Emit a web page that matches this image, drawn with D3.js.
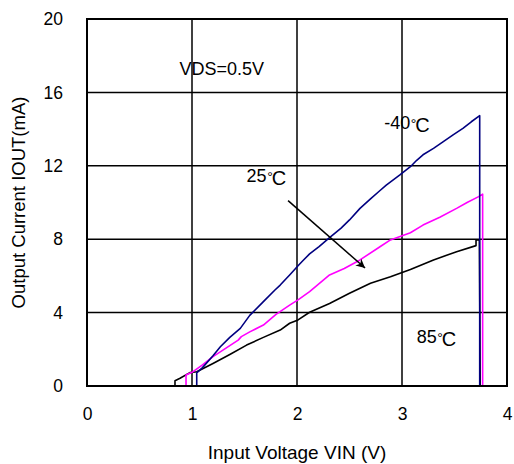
<!DOCTYPE html>
<html>
<head>
<meta charset="utf-8">
<script src="https://cdn.jsdelivr.net/npm/d3@7"></script>
<style>
  html, body { margin: 0; padding: 0; background: #fff; }
  svg { display: block; }
  text { font-family: "Liberation Sans", Arial, sans-serif; fill: #000; }
</style>
</head>
<body>
<svg id="chart" width="514" height="464"></svg>
<script>
// ---- data ----
const xTicks = [0, 1, 2, 3, 4];
const yTicks = [0, 4, 8, 12, 16, 20];

const vinM40 = [1.045, 1.045, 1.10, 1.20, 1.27, 1.36, 1.46, 1.55, 1.68, 1.79, 1.84, 1.93, 2.01, 2.06, 2.12, 2.21, 2.31, 2.42, 2.50, 2.60, 2.70, 2.78, 2.85, 2.98, 3.08, 3.14, 3.20, 3.30, 3.39, 3.49, 3.58, 3.66, 3.74, 3.74];
const ioutM40 = [0, 0.72, 1.0, 1.65, 2.14, 2.65, 3.14, 3.85, 4.6, 5.23, 5.5, 6.05, 6.55, 6.85, 7.2, 7.6, 8.08, 8.6, 9.05, 9.68, 10.2, 10.6, 10.95, 11.5, 11.95, 12.3, 12.6, 12.95, 13.3, 13.7, 14.04, 14.4, 14.73, 0];

const vin25 = [0.943, 0.943, 1.01, 1.10, 1.20, 1.32, 1.44, 1.47, 1.55, 1.68, 1.80, 1.93, 2.01, 2.12, 2.31, 2.45, 2.60, 2.79, 2.89, 3.08, 3.20, 3.36, 3.52, 3.62, 3.73, 3.768, 3.768];
const iout25 = [0, 0.6, 0.78, 1.15, 1.6, 2.05, 2.5, 2.69, 2.95, 3.32, 3.9, 4.41, 4.69, 5.14, 6.05, 6.4, 6.87, 7.59, 7.96, 8.35, 8.77, 9.2, 9.68, 10.0, 10.32, 10.46, 0];

const vin85 = [0.838, 0.838, 0.886, 0.98, 1.045, 1.20, 1.36, 1.52, 1.68, 1.84, 1.93, 2.01, 2.12, 2.31, 2.50, 2.70, 2.89, 3.08, 3.30, 3.52, 3.705, 3.705, 3.737, 3.745];
const iout85 = [0, 0.29, 0.42, 0.73, 0.78, 1.23, 1.72, 2.23, 2.65, 3.05, 3.42, 3.6, 4.02, 4.5, 5.05, 5.6, 5.95, 6.35, 6.87, 7.32, 7.65, 7.96, 7.96, 0];

const seriesTemps = ["-40", "25", "85"];
const seriesColors = ["#000080", "#ff00ff", "#000000"];

// ---- layout ----
const svg = d3.select("#chart");
const margin = { left: 87, top: 19, right: 7, bottom: 78 };
const W = 514, H = 464;
const x = d3.scaleLinear().domain([0, 4]).range([margin.left, W - margin.right]);
const y = d3.scaleLinear().domain([0, 20]).range([H - margin.bottom, margin.top]);

// grid
const grid = svg.append("g");
grid.selectAll("line.v").data(xTicks.slice(1, -1)).join("line")
  .attr("x1", d => x(d)).attr("x2", d => x(d))
  .attr("y1", y(0)).attr("y2", y(20))
  .attr("stroke", "#000").attr("stroke-width", 1.5);
grid.selectAll("line.h").data(yTicks.slice(1, -1)).join("line")
  .attr("x1", x(0)).attr("x2", x(4))
  .attr("y1", d => y(d)).attr("y2", d => y(d))
  .attr("stroke", "#000").attr("stroke-width", 1.5);

// axes (labels only)
const xAxis = svg.append("g").attr("transform", `translate(0,${y(0)})`)
  .call(d3.axisBottom(x).tickValues(xTicks).tickSize(0).tickPadding(22).tickFormat(d3.format("d")));
const yAxis = svg.append("g").attr("transform", `translate(${x(0)},0)`)
  .call(d3.axisLeft(y).tickValues(yTicks).tickSize(0).tickPadding(24).tickFormat(d3.format("d")));
[xAxis, yAxis].forEach(a => {
  a.select(".domain").remove();
  a.selectAll("text").attr("font-size", 17.5).attr("font-family", '"Liberation Sans", Arial, sans-serif');
});

// series
const line = d3.line().x(d => x(d[0])).y(d => y(d[1]));
const series = [
  d3.zip(vinM40, ioutM40),
  d3.zip(vin25, iout25),
  d3.zip(vin85, iout85)
];
[2, 1, 0].forEach(i => {
  svg.append("path").datum(series[i])
    .attr("d", line)
    .attr("fill", "none")
    .attr("stroke", seriesColors[i])
    .attr("stroke-width", 1.6)
    .attr("stroke-linejoin", "round");
});

// frame
svg.append("rect")
  .attr("x", x(0)).attr("y", y(20))
  .attr("width", x(4) - x(0)).attr("height", y(0) - y(20))
  .attr("fill", "none").attr("stroke", "#000").attr("stroke-width", 2);

// annotations
svg.append("text").attr("x", x(0.88)).attr("y", y(16.95))
  .attr("font-size", 18).text("VDS=0.5V");
const tempPos = [[2.83, 14.0], [1.52, 11.1], [3.14, 2.35]];
seriesTemps.forEach((t, i) => {
  const tx = svg.append("text").attr("x", x(tempPos[i][0])).attr("y", y(tempPos[i][1]))
    .attr("font-size", 18);
  tx.append("tspan").text(t);
  tx.append("tspan").attr("font-size", 14).attr("dy", 0).attr("dx", 0.5).text("°");
  tx.append("tspan").attr("font-size", 20).attr("dy", 3).attr("dx", -1).text("C");
});

// arrow
svg.append("defs").append("marker")
  .attr("id", "ah").attr("viewBox", "0 0 10 10")
  .attr("refX", 10).attr("refY", 5)
  .attr("markerWidth", 13).attr("markerHeight", 9)
  .attr("markerUnits", "userSpaceOnUse")
  .attr("orient", "auto")
  .append("path").attr("d", "M0,0 L10,5 L0,10 L3,5 Z").attr("fill", "#000");
svg.append("line")
  .attr("x1", x(1.915)).attr("y1", y(10.1))
  .attr("x2", x(2.648)).attr("y2", y(6.43))
  .attr("stroke", "#000").attr("stroke-width", 1.5)
  .attr("marker-end", "url(#ah)");

// axis titles
svg.append("text").attr("x", (x(0) + x(4)) / 2).attr("y", 459)
  .attr("text-anchor", "middle").attr("font-size", 19)
  .text("Input Voltage VIN (V)");
svg.append("text")
  .attr("transform", `translate(25,${(y(0) + y(20)) / 2}) rotate(-90)`)
  .attr("text-anchor", "middle").attr("font-size", 18.5)
  .text("Output Current IOUT(mA)");
</script>
</body>
</html>
